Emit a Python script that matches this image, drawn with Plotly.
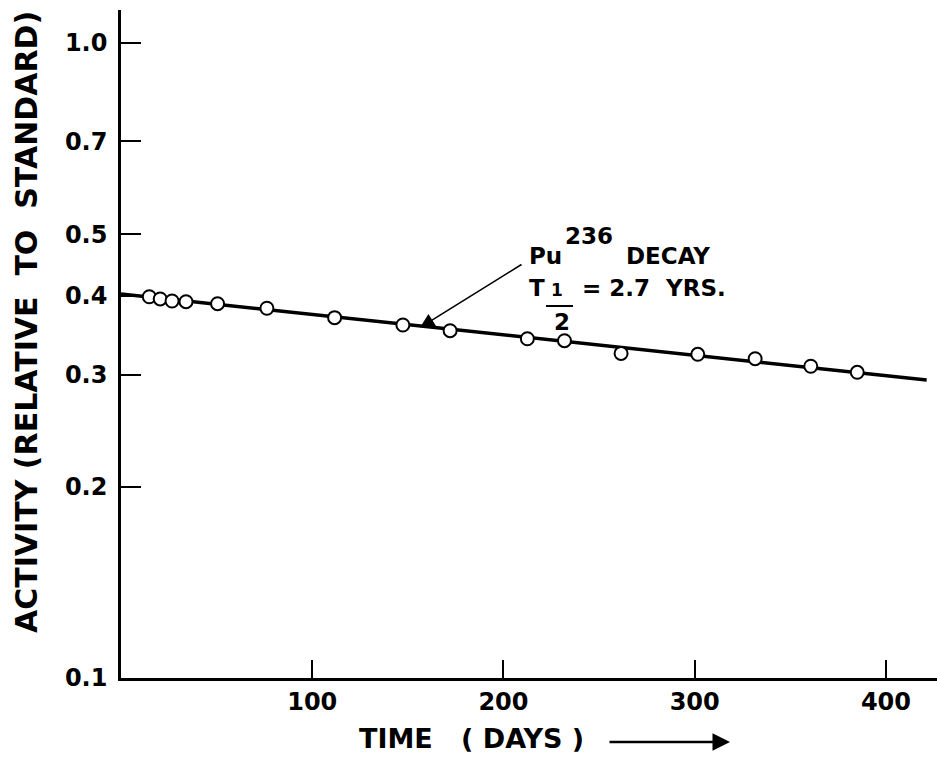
import plotly.graph_objects as go

# Data
days = [14.8, 20.5, 26.7, 34.0, 50.5, 76.3, 111.7, 147.4, 172.1, 212.5,
        231.9, 261.5, 301.6, 331.6, 360.7, 385.0]
activity = [0.3985, 0.3953, 0.3924, 0.3914, 0.3886, 0.3822, 0.3694, 0.3597,
            0.3523, 0.3422, 0.3398, 0.3245, 0.3234, 0.3183, 0.3097, 0.3030]

fit_days = [0, 421.3]
fit_activity = [0.4025, 0.2946]

x_ticks = [100, 200, 300, 400]
y_ticks = [0.1, 0.2, 0.3, 0.4, 0.5, 0.7, 1.0]
y_ticktext = ["0.1", "0.2", "0.3", "0.4", "0.5", "0.7", "1.0"]

FONT = "DejaVu Sans"
NB = "\u00a0"

fig = go.Figure()
fig.add_trace(go.Scatter(x=fit_days, y=fit_activity, mode="lines",
                         line=dict(color="black", width=3.5), showlegend=False))
fig.add_trace(go.Scatter(x=days, y=activity, mode="markers",
                         marker=dict(symbol="circle", size=13, color="white",
                                     line=dict(color="black", width=2)),
                         showlegend=False))

L, R, T, B = 121, 0, 10, 80
W, H = 937, 758
PW, PH = W - L - R, H - T - B


def px(x):
    return (x - L) / PW


def py(y):
    return (H - B - y) / PH


ann = []
# y axis title
ann.append(dict(text="ACTIVITY" + NB + "(RELATIVE" + NB * 2 + "TO" + NB * 2 + "STANDARD)",
                xref="paper", yref="paper", x=px(26), y=py(322), textangle=-90,
                showarrow=False, xanchor="center", yanchor="middle",
                font=dict(family=FONT, size=30, color="black", weight="bold")))
# x axis title
ann.append(dict(text="TIME" + NB * 3 + "(" + NB + "DAYS" + NB + ")",
                xref="paper", yref="paper", x=px(357), y=py(738),
                showarrow=False, xanchor="left", yanchor="middle",
                font=dict(family=FONT, size=27, color="black", weight="bold")))
ann.append(dict(text="", xref="paper", yref="paper", x=px(730), y=py(742),
                ax=-122, ay=0, showarrow=True, arrowhead=2, arrowsize=1.4,
                arrowwidth=2.5, arrowcolor="black"))
# curve label
lab_font = dict(family=FONT, size=23, color="black", weight="bold")
ann.append(dict(text="Pu", xref="paper", yref="paper", x=px(527), y=py(256),
                showarrow=False, xanchor="left", yanchor="middle", font=lab_font))
ann.append(dict(text="236", xref="paper", yref="paper", x=px(563), y=py(236),
                showarrow=False, xanchor="left", yanchor="middle", font=lab_font))
ann.append(dict(text="DECAY", xref="paper", yref="paper", x=px(624), y=py(256),
                showarrow=False, xanchor="left", yanchor="middle", font=lab_font))
ann.append(dict(text="T", xref="paper", yref="paper", x=px(527), y=py(288),
                showarrow=False, xanchor="left", yanchor="middle", font=lab_font))
ann.append(dict(text="1", xref="paper", yref="paper", x=px(557), y=py(290),
                showarrow=False, xanchor="center", yanchor="middle",
                font=dict(family=FONT, size=17, color="black", weight="bold")))
ann.append(dict(text="2", xref="paper", yref="paper", x=px(562), y=py(322),
                showarrow=False, xanchor="center", yanchor="middle", font=lab_font))
ann.append(dict(text="=" + NB + "2.7" + NB * 2 + "YRS.", xref="paper", yref="paper",
                x=px(580), y=py(288), showarrow=False, xanchor="left",
                yanchor="middle", font=lab_font))
ann.append(dict(text="", xref="paper", yref="paper", x=px(420), y=py(327.6),
                ax=103, ay=-64, showarrow=True, arrowhead=2, arrowsize=1.8,
                arrowwidth=1.6, arrowcolor="black"))

shapes = [dict(type="line", xref="paper", yref="paper", x0=px(546), x1=px(573),
               y0=py(306), y1=py(306), line=dict(color="black", width=2))]

fig.update_layout(
    width=W, height=H,
    margin=dict(l=L, r=R, t=T, b=B, pad=0),
    paper_bgcolor="white", plot_bgcolor="white",
    annotations=ann, shapes=shapes,
    xaxis=dict(range=[0, 426.7], tickvals=x_ticks, ticks="inside", ticklen=18,
               tickwidth=2, tickcolor="black", showline=True, linecolor="black",
               linewidth=2.5, showgrid=False, zeroline=False,
               ticklabelstandoff=0,
               tickfont=dict(family=FONT, size=24, color="black", weight="bold")),
    yaxis=dict(type="log", range=[-1, 0.052], tickvals=y_ticks, ticktext=y_ticktext,
               ticks="inside", ticklen=20, tickwidth=2, tickcolor="black",
               showline=True, linecolor="black", linewidth=2.5, showgrid=False,
               zeroline=False, ticklabelstandoff=6,
               tickfont=dict(family=FONT, size=24, color="black", weight="bold")),
)

fig.write_html("out.html")
